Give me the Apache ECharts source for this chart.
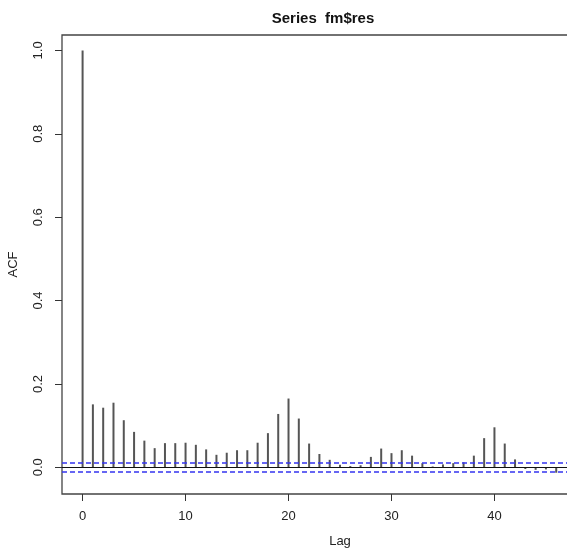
<!DOCTYPE html>
<html lang="en">
<head>
    <meta charset="UTF-8">
    <title>Series fm$res</title>
    <script src="https://cdn.jsdelivr.net/npm/echarts@6/dist/echarts.min.js"></script>
    <style>
        body { margin: 0; overflow: hidden; background: #fff; }
    </style>
</head>
<body>
<div id="main" style="width: 640px;height: 548px;"></div>
<script>
    // lags and autocorrelation values
    const lags = [0, 1, 2, 3, 4, 5, 6, 7, 8, 9, 10, 11, 12, 13, 14, 15, 16, 17, 18, 19, 20,
        21, 22, 23, 24, 25, 26, 27, 28, 29, 30, 31, 32, 33, 34, 35, 36, 37, 38, 39, 40,
        41, 42, 43, 44, 45, 46];
    const acfValues = [1.0, 0.151, 0.143, 0.155, 0.113, 0.085, 0.064, 0.046, 0.058, 0.058, 0.059,
        0.054, 0.043, 0.030, 0.035, 0.041, 0.041, 0.059, 0.082, 0.128, 0.165,
        0.117, 0.057, 0.032, 0.018, 0.006, 0.003, 0.005, 0.025, 0.045, 0.034,
        0.041, 0.028, 0.010, 0.002, 0.007, 0.010, 0.012, 0.028, 0.070, 0.096,
        0.057, 0.019, -0.004, -0.006, -0.005, -0.013];
    // confidence bound (blue dashed lines)
    const clim = 0.0085;
    const xTicks = [0, 10, 20, 30, 40];
    const yTicks = [0, 0.2, 0.4, 0.6, 0.8, 1.0];

    let chart = echarts.init(document.getElementById('main'));
    let font = 'Liberation Sans, Arial, sans-serif';
    let blue = '#3535f0';

    let option = {
        animation: false,
        title: {
            text: 'Series  fm$res',
            left: 318,
            textAlign: 'center',
            top: 6,
            textStyle: { fontFamily: font, fontSize: 15, fontWeight: 'bold', color: '#111' }
        },
        grid: {
            left: 62, top: 35, width: 556, bottom: 54,
            outerBoundsMode: 'none',
            containLabel: false,
            show: true, borderColor: '#444', borderWidth: 1.3
        },
        xAxis: {
            type: 'value',
            min: -2, max: 52,
            name: 'Lag',
            nameLocation: 'middle',
            nameGap: 41,
            nameTextStyle: { fontFamily: font, fontSize: 13, color: '#222' },
            axisLine: { show: false, onZero: false },
            axisTick: { show: true, length: 7, customValues: xTicks, lineStyle: { color: '#333' } },
            axisLabel: { customValues: xTicks, margin: 16, fontFamily: font, fontSize: 13, color: '#222' },
            splitLine: { show: false }
        },
        yAxis: {
            type: 'value',
            min: -0.064, max: 1.037,
            name: 'ACF',
            nameLocation: 'middle',
            nameGap: 42,
            nameRotate: 90,
            nameTextStyle: { fontFamily: font, fontSize: 13, color: '#222' },
            axisLine: { show: false, onZero: false },
            axisTick: { show: true, length: 7, customValues: yTicks, lineStyle: { color: '#333' } },
            axisLabel: {
                customValues: yTicks, rotate: 90, margin: 17,
                fontFamily: font, fontSize: 13, color: '#222',
                formatter: v => v.toFixed(1)
            },
            splitLine: { show: false }
        },
        series: [
            {
                type: 'bar',
                barWidth: 2,
                itemStyle: { color: '#555' },
                data: lags.map((l, i) => [l, acfValues[i]]),
                markLine: {
                    silent: true,
                    symbol: 'none',
                    label: { show: false },
                    lineStyle: { color: '#111', type: 'solid', width: 1.2 },
                    data: [{ yAxis: 0 }]
                }
            },
            {
                type: 'line',
                data: [],
                color: blue,
                markLine: {
                    silent: true,
                    symbol: 'none',
                    label: { show: false },
                    lineStyle: { color: blue, type: [5, 3], width: 1.5, opacity: 1 },
                    data: [{ yAxis: clim }, { yAxis: -clim }]
                }
            }
        ]
    };
    chart.setOption(option);
</script>
</body>
</html>
